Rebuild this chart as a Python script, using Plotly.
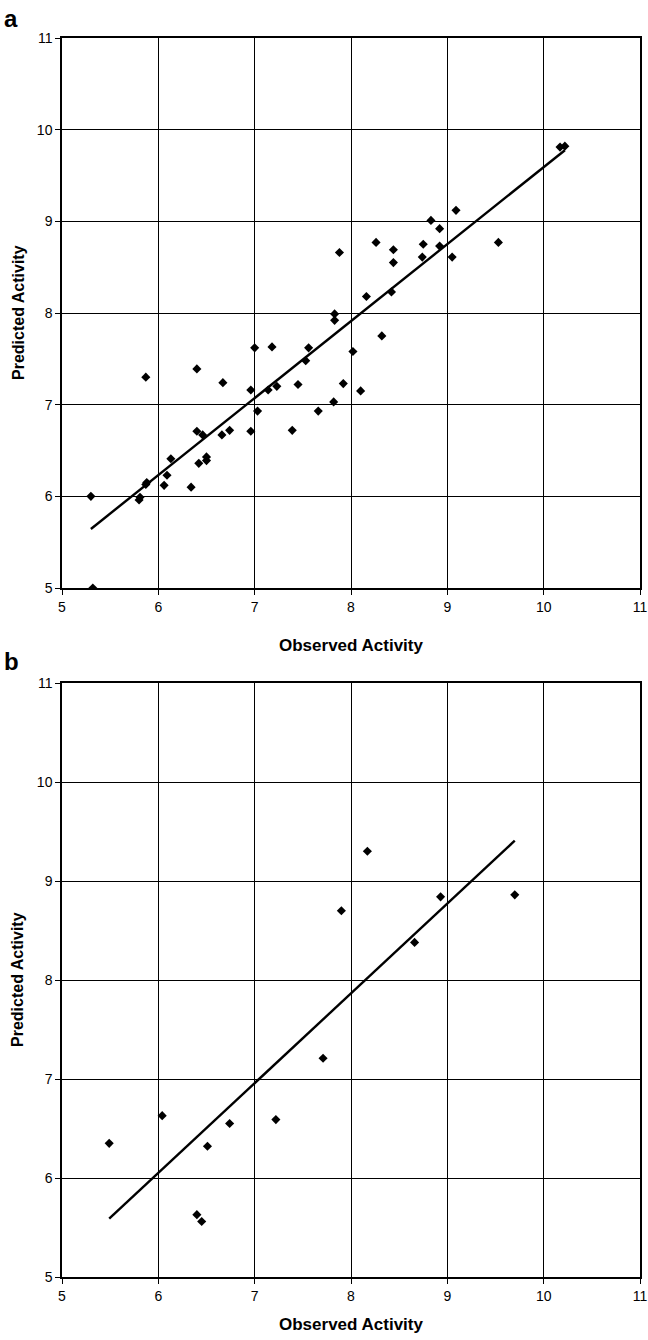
import numpy as np
import plotly.graph_objects as go

# Panel a data (observed, predicted)
a_obs = [5.30, 5.32, 5.80, 5.81, 5.87, 5.88, 5.87, 6.06, 6.09, 6.13, 6.34, 6.40, 6.40, 6.42, 6.46,
         6.50, 6.50, 6.66, 6.67, 6.74, 6.96, 6.96, 7.00, 7.03, 7.14, 7.18, 7.23, 7.39, 7.45, 7.53,
         7.56, 7.66, 7.82, 7.83, 7.83, 7.88, 7.92, 8.02, 8.10, 8.16, 8.26, 8.32, 8.42, 8.44, 8.44,
         8.74, 8.75, 8.83, 8.92, 8.92, 9.05, 9.09, 9.53, 10.17, 10.22]
a_pred = [6.00, 5.00, 5.96, 5.99, 6.13, 6.15, 7.30, 6.12, 6.23, 6.41, 6.10, 7.39, 6.71, 6.36, 6.67,
          6.39, 6.43, 6.67, 7.24, 6.72, 7.16, 6.71, 7.62, 6.93, 7.16, 7.63, 7.20, 6.72, 7.22, 7.48,
          7.62, 6.93, 7.03, 7.92, 7.99, 8.66, 7.23, 7.58, 7.15, 8.18, 8.77, 7.75, 8.23, 8.69, 8.55,
          8.61, 8.75, 9.01, 8.92, 8.73, 8.61, 9.12, 8.77, 9.81, 9.82]

# Panel b data
b_obs = [5.49, 6.04, 6.40, 6.45, 6.51, 6.74, 7.22, 7.71, 7.90, 8.17, 8.66, 8.93, 9.70]
b_pred = [6.35, 6.63, 5.63, 5.56, 6.32, 6.55, 6.59, 7.21, 8.70, 9.30, 8.38, 8.84, 8.86]

tick_vals = [5, 6, 7, 8, 9, 10, 11]
tick_text = ["5", "6", "7", "8", "9", "10", "11"]

NARROW = "Liberation Sans Narrow, Arial Narrow, Liberation Sans, Arial, sans-serif"
BOLD = "Liberation Sans, Arial, sans-serif"

fig = go.Figure()

def add_panel(xs, ys, xa, ya):
    fig.add_trace(go.Scatter(x=xs, y=ys, mode="markers", xaxis=xa, yaxis=ya,
                             marker=dict(symbol="diamond", size=7, color="black"),
                             showlegend=False))
    k, b = np.polyfit(xs, ys, 1)
    lx = [min(xs), max(xs)]
    ly = [k * v + b for v in lx]
    fig.add_trace(go.Scatter(x=lx, y=ly, mode="lines", xaxis=xa, yaxis=ya,
                             line=dict(color="black", width=2.4), showlegend=False))

add_panel(a_obs, a_pred, "x", "y")
add_panel(b_obs, b_pred, "x2", "y2")

axis_common = dict(range=[5, 11], tickvals=tick_vals, ticktext=tick_text,
                   showgrid=True, gridcolor="black", gridwidth=1,
                   showline=True, linecolor="black", linewidth=1.5, mirror=True,
                   ticks="outside", ticklen=5, tickcolor="black", tickwidth=1,
                   zeroline=False, automargin=False,
                   tickfont=dict(family=NARROW, size=14, color="black"))

W = 648
H = 1340
L, R = 62, 8
t, bm = 38, 63
pw = W - L - R
ph = H - t - bm

def dom(top_px, bot_px):
    return [(H - bm - bot_px) / ph, (H - bm - top_px) / ph]

fig.update_layout(
    width=W, height=H,
    margin=dict(l=L, r=R, t=t, b=bm, autoexpand=False),
    paper_bgcolor="white", plot_bgcolor="white",
    xaxis=dict(**axis_common, domain=[0, 1], anchor="y"),
    yaxis=dict(**axis_common, domain=dom(38, 588), anchor="x"),
    xaxis2=dict(**axis_common, domain=[0, 1], anchor="y2"),
    yaxis2=dict(**axis_common, domain=dom(683, 1277), anchor="x2"),
)

annots = [
    dict(text="<b>a</b>", x=11, y=18, font=dict(family=BOLD, size=24)),
    dict(text="<b>b</b>", x=11, y=662, font=dict(family=BOLD, size=24)),
    dict(text="<b>Observed Activity</b>", x=351, y=645, font=dict(family=NARROW, size=17)),
    dict(text="<b>Observed Activity</b>", x=351, y=1324, font=dict(family=NARROW, size=17)),
    dict(text="<b>Predicted Activity</b>", x=18, y=313, font=dict(family=BOLD, size=16), textangle=-90),
    dict(text="<b>Predicted Activity</b>", x=18, y=980, font=dict(family=BOLD, size=16), textangle=-90),
]
for an in annots:
    fig.add_annotation(text=an["text"],
                       x=(an["x"] - L) / pw, y=(H - bm - an["y"]) / ph,
                       xref="paper", yref="paper", showarrow=False,
                       xanchor="center", yanchor="middle",
                       font=dict(color="black", **an["font"]),
                       textangle=an.get("textangle", 0))

fig.write_html("out.html", config={"displayModeBar": False},
               post_script="document.body.style.margin='0';document.body.style.overflow='hidden';")
